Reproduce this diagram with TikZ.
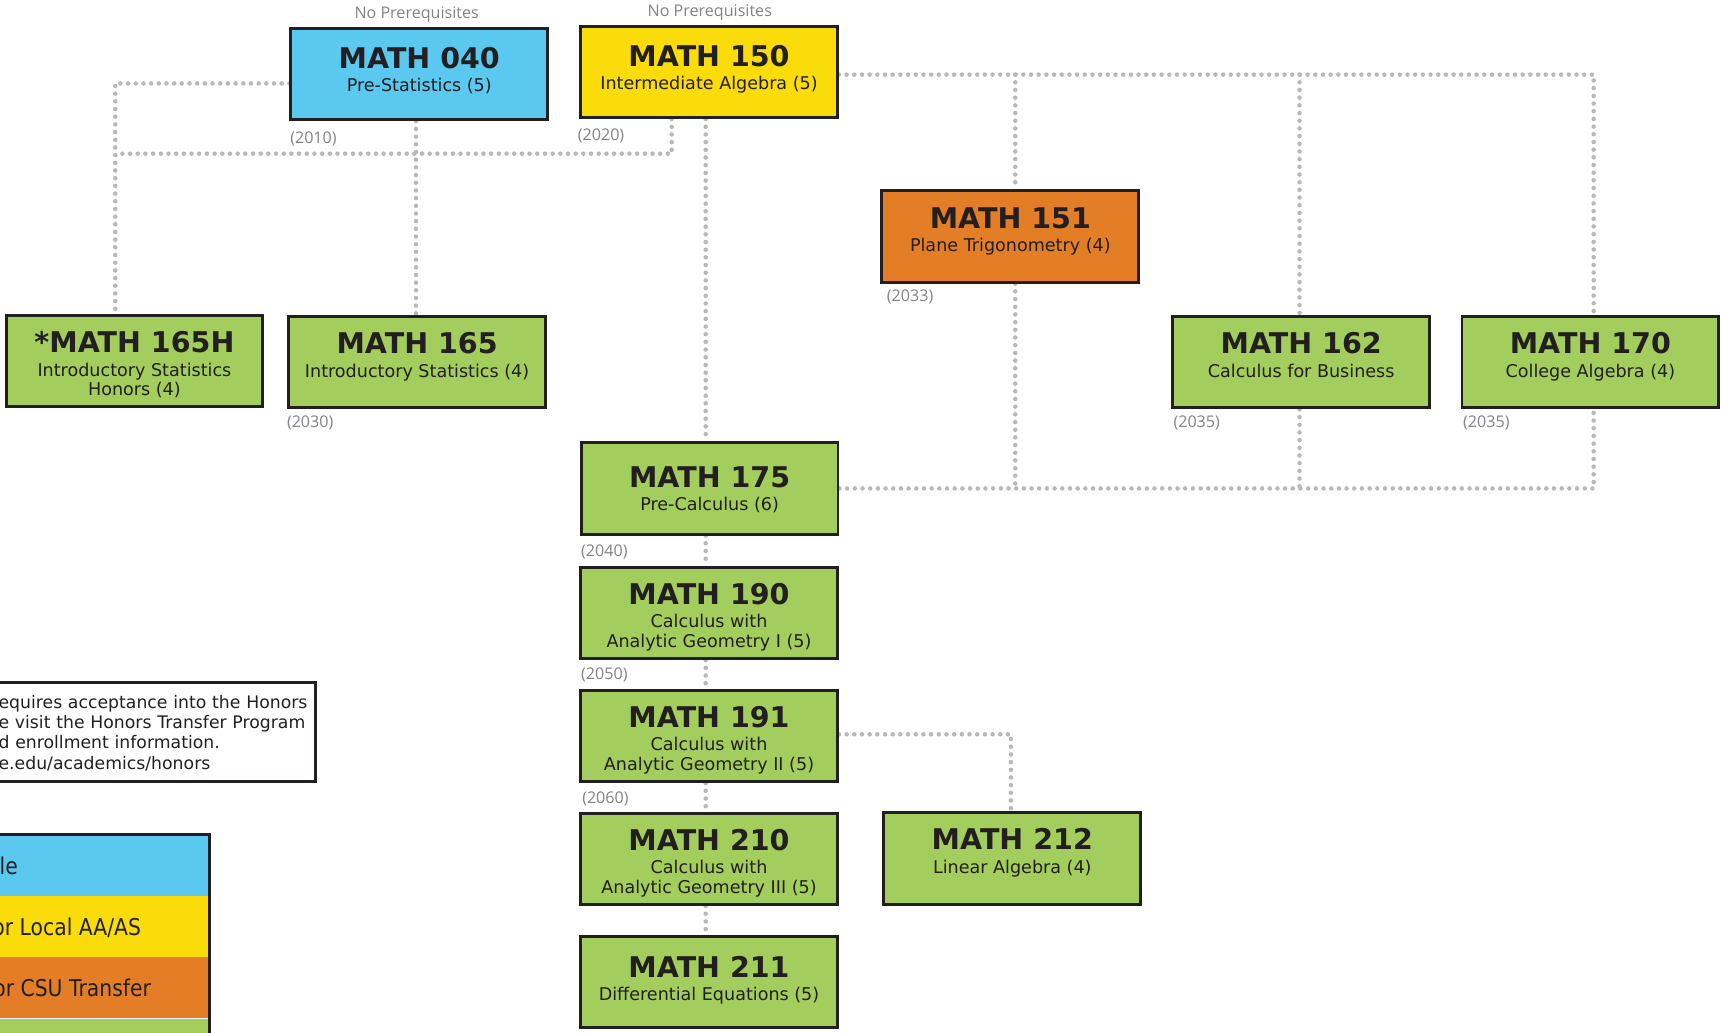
\documentclass[tikz,border=0pt]{standalone}
\usepackage{fontspec}
\setmainfont{DejaVu Sans}
\newfontfamily\yearfont{Open Sans}
\newfontfamily\legendfont[FakeStretch=0.88]{DejaVu Sans}
\usetikzlibrary{backgrounds}

\definecolor{cblue}{HTML}{5BC8F0}
\definecolor{cyellow}{HTML}{F9DC09}
\definecolor{corange}{HTML}{E37E27}
\definecolor{cgreen}{HTML}{A3CD5C}
\definecolor{boxline}{HTML}{231F20}
\definecolor{dotgray}{HTML}{B6B8BB}
\definecolor{yeargray}{HTML}{808285}

\tikzset{every picture/.style={line width=0.75pt}}
\tikzset{
  course/.style={draw=boxline, line width=2pt, fill=cgreen, inner sep=0pt, minimum width=175.5pt,
    align=center, text=boxline, font=\fontsize{12}{13.5}\selectfont, text height=41.5pt, text depth=21pt},
  twoline/.style={text height=55pt, text depth=7.5pt},
  prereq/.style={draw=dotgray, line width=3.1pt, line cap=round, dash pattern=on 0pt off 5.25pt},
  yearlbl/.style={anchor=base west, inner sep=0pt, text=yeargray, font=\yearfont\fontsize{11}{13}\selectfont},
  notebox/.style={draw=boxline, line width=2pt, fill=white, text width=213pt, align=left, inner xsep=3.5pt,
    minimum height=67.8pt, text=boxline, font=\fontsize{11.8}{13.9}\selectfont},
  legendtxt/.style={anchor=base east, inner sep=0pt, text=boxline, font=\legendfont\fontsize{15.8}{17}\selectfont}
}
\newcommand{\ctitle}[1]{{\fontsize{19.5}{21}\selectfont\bfseries #1}\\[2.5pt]}

\begin{document}
\begin{tikzpicture}[x=0.75pt,y=0.75pt,yscale=-1,xscale=1]
\useasboundingbox (0,0) rectangle (1568,941);

%Shape: Rectangle
\node[course, fill=cblue, text height=43.3pt, text depth=19.2pt] (m040) at (382,67.5) {\ctitle{MATH 040}Pre-Statistics (5)};
%Shape: Rectangle
\node[course, fill=cyellow, text height=43.3pt, text depth=19.2pt] (m150) at (646,65.5) {\ctitle{MATH 150}Intermediate Algebra (5)};
%Shape: Rectangle
\node[course, fill=corange] (m151) at (920.5,215.5) {\ctitle{MATH 151}Plane Trigonometry (4)};
%Shape: Rectangle
\node[course, twoline] (m165h) at (122.5,329) {\ctitle{*MATH 165H}Introductory Statistics\\Honors (4)};
%Shape: Rectangle
\node[course] (m165) at (380,330) {\ctitle{MATH 165}Introductory Statistics (4)};
%Shape: Rectangle
\node[course] (m162) at (1185.5,330) {\ctitle{MATH 162}Calculus for Business};
%Shape: Rectangle
\node[course] (m170) at (1449,330) {\ctitle{MATH 170}College Algebra (4)};
%Shape: Rectangle
\node[course, text height=46.5pt, text depth=16pt] (m175) at (646.5,445) {\ctitle{MATH 175}Pre-Calculus (6)};
%Shape: Rectangle
\node[course, twoline] (m190) at (646,558.5) {\ctitle{MATH 190}Calculus with\\Analytic Geometry I (5)};
%Shape: Rectangle
\node[course, twoline] (m191) at (646,670.5) {\ctitle{MATH 191}Calculus with\\Analytic Geometry II (5)};
%Shape: Rectangle
\node[course, twoline] (m210) at (646,782.5) {\ctitle{MATH 210}Calculus with\\Analytic Geometry III (5)};
%Shape: Rectangle
\node[course, text height=44pt, text depth=18.5pt] (m211) at (646,894.5) {\ctitle{MATH 211}Differential Equations (5)};
%Shape: Rectangle
\node[course] (m212) at (922.3,782) {\ctitle{MATH 212}Linear Algebra (4)};

%Straight Lines
\coordinate (j165h) at (105,76);
\coordinate (j150) at (612,140);
\coordinate (j165) at (379,140);
\coordinate (jcol) at (643,140);
\coordinate (jtop) at (1452,68);
\coordinate (jt151) at (925,68);
\coordinate (jt162) at (1184,68);
\coordinate (jbot) at (1452,445);
\coordinate (jb151) at (925,445);
\coordinate (jb162) at (1184,445);
\coordinate (j212) at (921,669);
\begin{scope}[on background layer]
\draw[prereq] (m040.west |- j165h) -- (j165h) -- (m165h.north -| j165h);
\draw[prereq] (m150.south -| j150) -- (j150) -- (j150 -| j165h);
\draw[prereq] (m040.south -| j165) -- (m165.north -| j165);
\draw[prereq] (m150.south -| jcol) -- (m175.north -| jcol);
\draw[prereq] (m150.east |- jtop) -- (jtop) -- (m170.north -| jtop);
\draw[prereq] (jt151) -- (m151.north -| jt151);
\draw[prereq] (jt162) -- (m162.north -| jt162);
\draw[prereq] (m175.east |- jbot) -- (jbot) -- (m170.south -| jbot);
\draw[prereq] (m151.south -| jb151) -- (jb151);
\draw[prereq] (m162.south -| jb162) -- (jb162);
\draw[prereq] (m175.south -| jcol) -- (m190.north -| jcol);
\draw[prereq] (m190.south -| jcol) -- (m191.north -| jcol);
\draw[prereq] (m191.south -| jcol) -- (m210.north -| jcol);
\draw[prereq] (m210.south -| jcol) -- (m211.north -| jcol);
\draw[prereq] (m191.east |- j212) -- (j212) -- (m212.north -| j212);
\end{scope}

% Text Node
\node[yearlbl, anchor=base] (np040) at (379.6,16.7) {No Prerequisites};
% Text Node
\node[yearlbl, anchor=base] (np150) at (646.7,15.2) {No Prerequisites};
% Text Node
\node[yearlbl] (y2010) at (264,130.6) {(2010)};
\node[yearlbl] (y2020) at (526,128) {(2020)};
\node[yearlbl] (y2030) at (261,389.5) {(2030)};
\node[yearlbl] (y2033) at (807.6,274.8) {(2033)};
\node[yearlbl] (y2035a) at (1068.7,389.6) {(2035)};
\node[yearlbl] (y2035b) at (1332.6,389.6) {(2035)};
\node[yearlbl] (y2040) at (529,506.7) {(2040)};
\node[yearlbl] (y2050) at (529,619) {(2050)};
\node[yearlbl] (y2060) at (530,731.8) {(2060)};

% Text Node
\node[notebox, anchor=north east] (honors) at (288.7,620.3) {\rule{0pt}{10.5pt}equires acceptance into the Honors\\e visit the Honors Transfer Program\\d enrollment information.\\e.edu/academics/honors};

%Shape: Rectangle
\fill[cblue] (-10,760.3) rectangle (190.7,816.5);
\fill[cyellow] (-10,816.5) rectangle (190.7,871.6);
\fill[corange] (-10,871.6) rectangle (190.7,927.2);
\fill[cgreen] (-10,928.2) rectangle (190.7,960);
\draw[boxline, line width=2pt] (-10,760.3) rectangle (190.7,960);
% Text Node
\node[legendtxt] (lgblue) at (16.7,796.3) {le};
\node[legendtxt] (lgyellow) at (129,851.9) {or Local AA/AS};
\node[legendtxt] (lgorange) at (138,907.5) {or CSU Transfer};

\end{tikzpicture}
\end{document}
